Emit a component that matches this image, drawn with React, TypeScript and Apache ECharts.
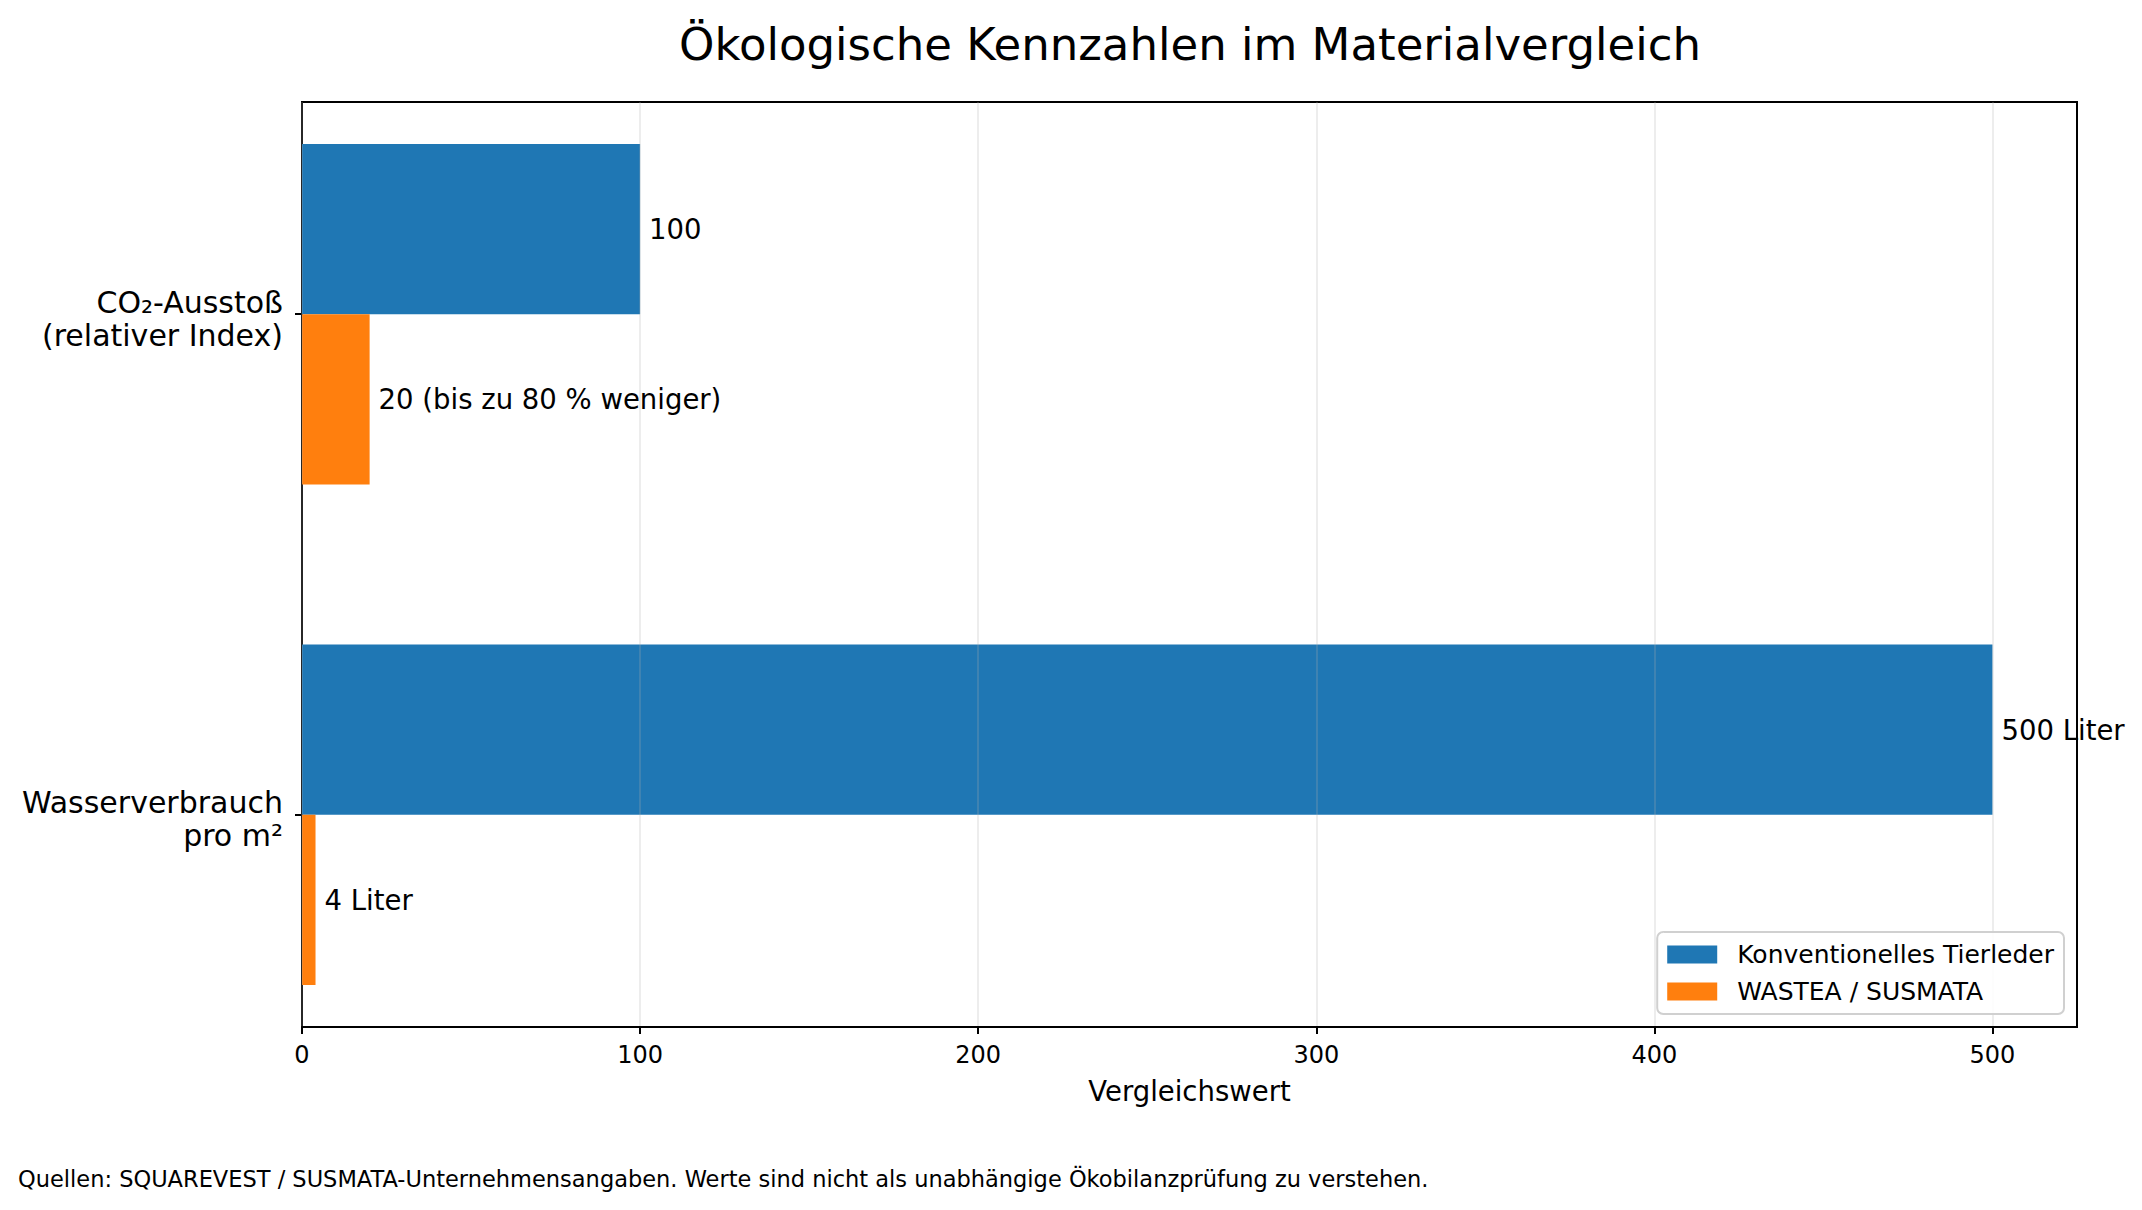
import React, { useEffect, useRef } from 'react';
import * as echarts from 'echarts';

const categories = ['CO₂-Ausstoß\n(relativer Index)', 'Wasserverbrauch\npro m²'];
const conventional = [100, 500];
const wastea = [20, 4];
const conventionalLabels = ['100', '500 Liter'];
const wasteaLabels = ['20 (bis zu 80 % weniger)', '4 Liter'];
const xTicks = [0, 100, 200, 300, 400, 500];
const seriesNames = ['Konventionelles Tierleder', 'WASTEA / SUSMATA'];

const BAR_H = 0.34;
const Y_MIN = -0.424;
const Y_MAX = 1.424;
// label axis is nudged a few px down so the two-line labels sit like matplotlib's
const LABEL_SHIFT = 0.009;
const FONT = '"DejaVu Sans", sans-serif';

const makeRender = (above: boolean, labels: string[]) => (params: any, api: any) => {
  const v = api.value(0);
  const c = api.value(1);
  const a = api.coord([0, above ? c - BAR_H : c]);
  const b = api.coord([v, above ? c : c + BAR_H]);
  return {
    type: 'group',
    children: [
      {
        type: 'rect',
        shape: { x: a[0], y: Math.min(a[1], b[1]), width: b[0] - a[0], height: Math.abs(b[1] - a[1]) },
        style: { fill: api.visual('color') },
      },
      {
        type: 'text',
        x: b[0] + 9,
        y: (a[1] + b[1]) / 2,
        style: {
          text: labels[params.dataIndex],
          fill: '#000',
          fontSize: 27.5,
          fontFamily: FONT,
          align: 'left',
          verticalAlign: 'middle',
        },
      },
    ],
  };
};

const App: React.FC = () => {
  const chartRef = useRef<HTMLDivElement>(null);

  useEffect(() => {
    if (!chartRef.current) return;
    const chart = echarts.init(chartRef.current, undefined, { renderer: 'svg' });

    chart.setOption({
      animation: false,
      backgroundColor: '#fff',
      textStyle: { fontFamily: FONT },
      grid: {
        left: 302,
        right: 65,
        top: 102,
        bottom: 183,
        show: true,
        borderColor: '#000',
        borderWidth: 2,
        backgroundColor: 'transparent',
      },
      xAxis: {
        type: 'value',
        min: 0,
        max: 525,
        interval: 100,
        z: 3,
        name: 'Vergleichswert',
        nameLocation: 'middle',
        nameGap: 50,
        nameTextStyle: { fontSize: 27.5, color: '#000', fontFamily: FONT },
        axisLine: { show: true, onZero: false, lineStyle: { color: '#000', width: 2 } },
        axisTick: { show: true, length: 7, customValues: xTicks, lineStyle: { color: '#000', width: 2 } },
        axisLabel: { customValues: xTicks, fontSize: 24, color: '#000', margin: 16, fontFamily: FONT },
        splitLine: { show: true, lineStyle: { color: 'rgba(176,176,176,0.3)', width: 1.5 } },
      },
      yAxis: [
        {
          type: 'value',
          min: Y_MIN,
          max: Y_MAX,
          inverse: true,
          position: 'left',
          axisLine: { show: true, onZero: false, lineStyle: { color: '#000', width: 2 } },
          axisTick: { show: true, length: 7, customValues: [0, 1], lineStyle: { color: '#000', width: 2 } },
          axisLabel: { show: false },
          splitLine: { show: false },
        },
        {
          type: 'value',
          min: Y_MIN - LABEL_SHIFT,
          max: Y_MAX - LABEL_SHIFT,
          inverse: true,
          position: 'left',
          offset: 0,
          axisLine: { show: false },
          axisTick: { show: false },
          axisLabel: {
            customValues: [0, 1],
            formatter: (v: number) => categories[Math.round(v)] ?? '',
            fontSize: 30,
            lineHeight: 33,
            color: '#000',
            margin: 19,
            align: 'right',
            fontFamily: FONT,
          },
          splitLine: { show: false },
        },
      ],
      legend: {
        data: seriesNames,
        orient: 'vertical',
        right: 78,
        bottom: 196,
        icon: 'rect',
        itemWidth: 50,
        itemHeight: 18,
        itemGap: 12,
        padding: [10, 10, 10, 10],
        borderColor: '#d0d0d0',
        borderWidth: 2,
        borderRadius: 6,
        backgroundColor: 'rgba(255,255,255,0.85)',
        textStyle: { fontSize: 25, color: '#000', fontFamily: FONT, padding: [0, 0, 0, 15] },
      },
      graphic: [
        {
          type: 'text',
          x: 1190,
          y: 44,
          style: {
            text: 'Ökologische Kennzahlen im Materialvergleich',
            fontSize: 45,
            fontFamily: FONT,
            fill: '#000',
            align: 'center',
            verticalAlign: 'middle',
          },
        },
        {
          type: 'text',
          x: 18,
          y: 1179,
          style: {
            text: 'Quellen: SQUAREVEST / SUSMATA-Unternehmensangaben. Werte sind nicht als unabhängige Ökobilanzprüfung zu verstehen.',
            fontSize: 22.5,
            fontFamily: FONT,
            fill: '#000',
            align: 'left',
            verticalAlign: 'middle',
          },
        },
      ],
      series: [
        {
          name: seriesNames[0],
          type: 'custom',
          color: '#1f77b4',
          itemStyle: { color: '#1f77b4' },
          renderItem: makeRender(true, conventionalLabels),
          data: conventional.map((v, i) => [v, i]),
          encode: { x: 0, y: 1 },
          yAxisIndex: 0,
          clip: false,
        },
        {
          name: seriesNames[1],
          type: 'custom',
          color: '#ff7f0e',
          itemStyle: { color: '#ff7f0e' },
          renderItem: makeRender(false, wasteaLabels),
          data: wastea.map((v, i) => [v, i]),
          encode: { x: 0, y: 1 },
          yAxisIndex: 0,
          clip: false,
        },
      ],
    });

    return () => {
      chart.dispose();
    };
  }, []);

  return (
    <div
      ref={chartRef}
      style={{ position: 'fixed', left: 0, top: 0, width: '2142px', height: '1210px', background: '#fff' }}
    ></div>
  );
};

export default App;
